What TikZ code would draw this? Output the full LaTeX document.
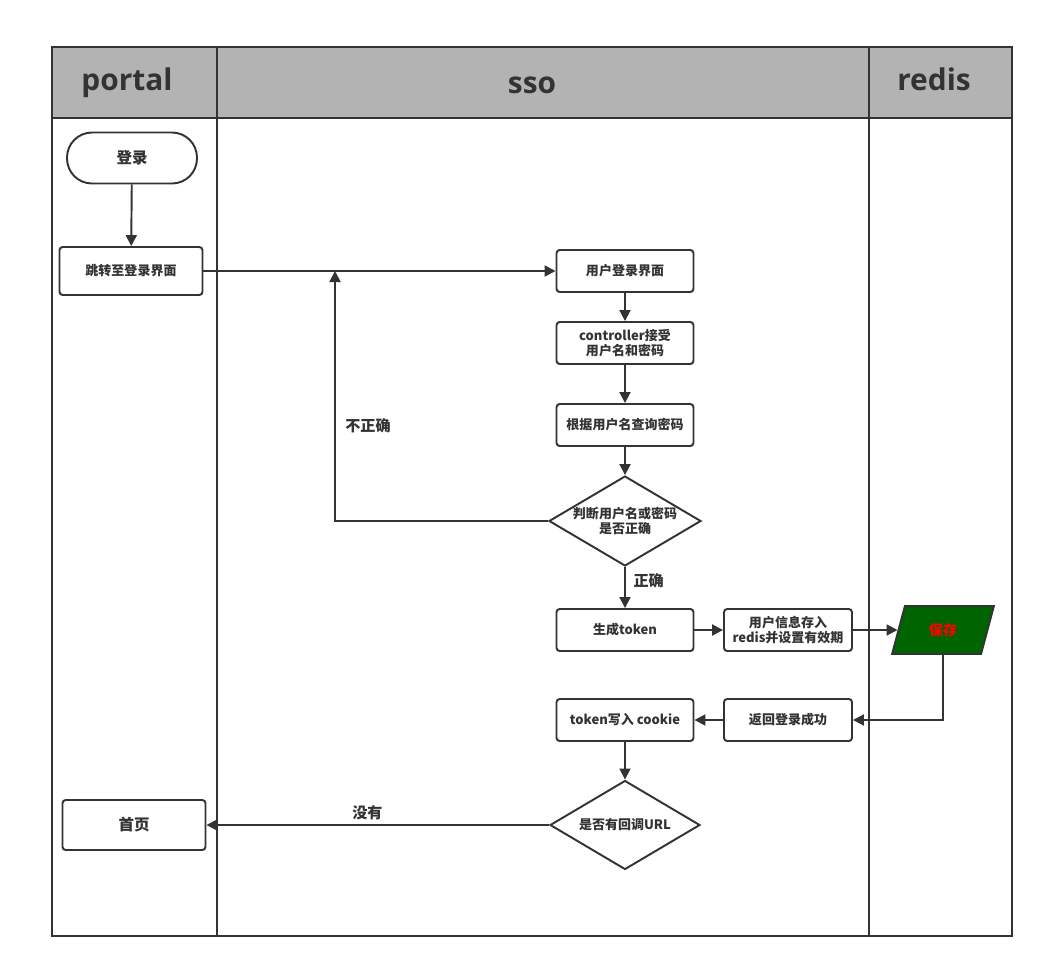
\documentclass[tikz,border=0pt]{standalone}
\usepackage{fontspec}
\setmainfont{Noto Sans CJK SC}
\newfontfamily\headfont{Open Sans}
\usetikzlibrary{arrows.meta,shapes.geometric}

\definecolor{ink}{HTML}{333333}
\definecolor{lanegray}{HTML}{B3B3B3}
\definecolor{savegreen}{HTML}{006400}

\tikzset{
  lane/.style={draw=ink, line width=1.1pt},
  lanehead/.style={font=\headfont\bfseries\fontsize{17}{20}\selectfont, text=ink, anchor=base},
  box/.style={draw=ink, line width=1.1pt, rounded corners=1.8pt, fill=white,
    minimum width=2.74cm, minimum height=0.84cm, align=center, inner sep=1pt,
    text=ink, font=\bfseries\fontsize{7.4}{9}\selectfont},
  startbox/.style={box, rounded corners=0.5cm, minimum width=2.6cm,
    minimum height=1.02cm, font=\bfseries\fontsize{8.8}{10}\selectfont},
  decision/.style={diamond, aspect=1.69, draw=ink, line width=1.1pt, fill=white,
    align=center, minimum width=3cm, minimum height=1.78cm, inner sep=0pt, text=ink,
    font=\bfseries\fontsize{7.4}{9}\selectfont},
  store/.style={trapezium, trapezium left angle=75, trapezium right angle=105,
    draw=ink, line width=1.1pt, fill=savegreen, text=red, minimum width=2cm,
    minimum height=0.96cm, font=\bfseries\fontsize{8}{10}\selectfont},
  flow/.style={draw=ink, line width=1.1pt, -{Triangle[length=2.2mm,width=2.2mm]}},
  cond/.style={text=ink, font=\bfseries\fontsize{8.6}{10}\selectfont}
}

\begin{document}
\begin{tikzpicture}[x=0.02cm, y=-0.02cm]
  \useasboundingbox (0,0) rectangle (1056,968);

  % swimlanes
  \fill[lanegray] (52,47) rectangle (1012,118);
  \draw[lane] (52,47) rectangle (1012,936);
  \draw[lane] (52,118) -- (1012,118);
  \draw[lane] (217,47) -- (217,936);
  \draw[lane] (869,47) -- (869,936);
  \node[lanehead] (portal) at (127,90) {portal};
  \node[lanehead] (sso) at (532,93) {sso};
  \node[lanehead] (redis) at (934,90) {redis};

  % portal
  \node[startbox] (login) at (132,158) {登录};
  \node[box, minimum width=2.86cm, minimum height=0.96cm] (jump) at (131,271) {跳转至登录界面};
  \node[box, minimum width=2.86cm, minimum height=1cm, font=\bfseries\fontsize{8.8}{10}\selectfont] (home) at (134,825) {首页};

  % sso
  \node[box] (page) at (625,271) {用户登录界面};
  \node[box] (ctrl) at (625,343) {controller接受\\用户名和密码};
  \node[box] (query) at (625,425) {根据用户名查询密码};
  \node[decision] (check) at (625,521) {判断用户名或密码\\是否正确};
  \node[box] (token) at (625,630) {生成token};
  \node[box, minimum width=2.56cm] (put) at (788,630) {用户信息存入\\redis并设置有效期};
  \node[box, minimum width=2.56cm] (ok) at (788,720) {返回登录成功};
  \node[box] (cookie) at (625,720) {token写入 cookie};
  \node[decision] (callback) at (625,825) {是否有回调URL};

  % redis
  \node[store] (save) at (943,630) {保存};

  \coordinate (back) at (335,271);

  \draw[flow] (login) -- (jump);
  \draw[flow] (jump) -- (page);
  \draw[flow] (page) -- (ctrl);
  \draw[flow] (ctrl) -- (query);
  \draw[flow] (query) -- (check);
  \draw[flow] (check.west) -| (back) node[cond, pos=0.69, right=2pt] {不正确};
  \draw[flow] (check) -- (token) node[cond, pos=0.33, right=1pt] {正确};
  \draw[flow] (token) -- (put);
  \draw[flow] (put) -- (save);
  \draw[flow] (save.south) |- (ok.east);
  \draw[flow] (ok) -- (cookie);
  \draw[flow] (cookie) -- (callback);
  \draw[flow] (callback.west) -- (home.east) node[cond, pos=0.53, above=-1pt] {没有};
\end{tikzpicture}
\end{document}
